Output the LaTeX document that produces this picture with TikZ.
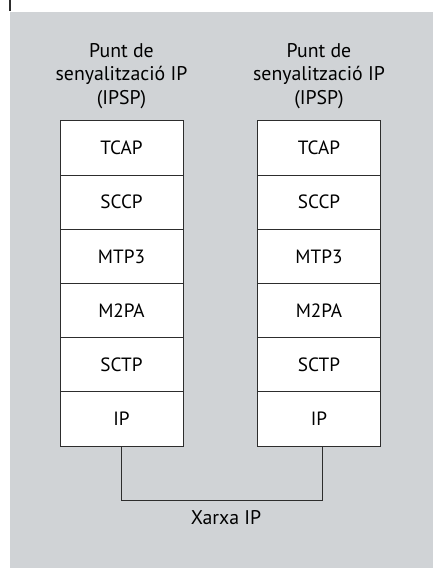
\documentclass[tikz,border=0pt]{standalone}
\usepackage{fontspec}
\setmainfont{PT Sans}
\definecolor{bgray}{RGB}{208,211,214}
\definecolor{lgray}{RGB}{45,45,45}
\begin{document}
\begin{tikzpicture}[x=1pt,y=-1pt,
  layer/.style={draw=lgray,line width=1pt,fill=white,minimum width=123pt,minimum height=54.17pt,inner sep=0pt,outer sep=0pt,font=\fontsize{19.2}{23}\selectfont},
  header/.style={align=center,font=\fontsize{19.8}{23.5}\selectfont,inner sep=0pt},
  link/.style={draw=lgray,line width=1pt}]
\useasboundingbox (0,0) rectangle (433,568);
\fill[bgray] (10,12) rectangle (433,568);
\draw[lgray,line width=1.6pt] (10.2,0) -- (10.2,11);
% left stack
\node[header] (hL) at (121.5,76) {Punt de\\senyalització IP\\(IPSP)};
\node[layer] (tcapL) at (121.5,148.08) {TCAP};
\node[layer] (sccpL) at (121.5,202.25) {SCCP};
\node[layer] (mtpL) at (121.5,256.42) {MTP3};
\node[layer] (m2paL) at (121.5,310.58) {M2PA};
\node[layer] (sctpL) at (121.5,364.75) {SCTP};
\node[layer] (ipL) at (121.5,418.92) {IP};
% right stack
\node[header] (hR) at (319,76) {Punt de\\senyalització IP\\(IPSP)};
\node[layer] (tcapR) at (319,148.08) {TCAP};
\node[layer] (sccpR) at (319,202.25) {SCCP};
\node[layer] (mtpR) at (319,256.42) {MTP3};
\node[layer] (m2paR) at (319,310.58) {M2PA};
\node[layer] (sctpR) at (319,364.75) {SCTP};
\node[layer] (ipR) at (319,418.92) {IP};
% network
\coordinate (netL) at (121.5,500);
\coordinate (netR) at (322,500);
\draw[link] (ipL.south) -- (netL) -- (netR) -- ([xshift=3pt]ipR.south);
\node[header] (net) at (226,518) {Xarxa IP};
\end{tikzpicture}
\end{document}
